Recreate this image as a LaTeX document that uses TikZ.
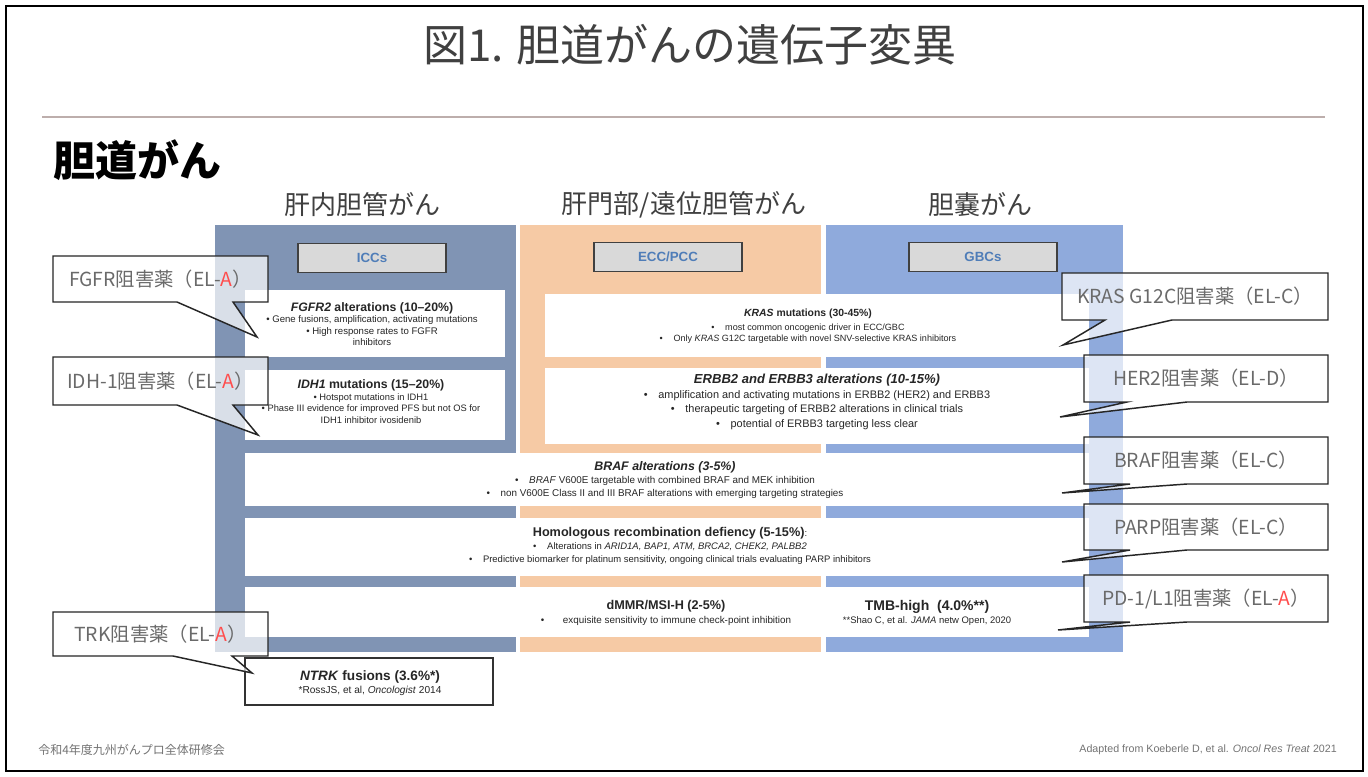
\documentclass[tikz,border=0pt]{standalone}
\usepackage{fontspec}
\setmainfont{Liberation Sans}
\newfontfamily\jp{Noto Sans CJK JP}
\definecolor{icc}{HTML}{8094B4}
\definecolor{ecc}{HTML}{F6CAA5}
\definecolor{gbc}{HTML}{8FAADC}
\definecolor{hdrtxt}{HTML}{4F7DB8}
\definecolor{calltxt}{HTML}{6A6A6A}
\definecolor{redA}{HTML}{FF4D4D}
\definecolor{rulecol}{HTML}{BDAEAC}
\definecolor{txt}{HTML}{262626}
\newcommand\hdf[1]{\fontsize{#1}{10}\selectfont\bfseries}
\newcommand\callbox[9]{%
  \path[callshape] (#2,#3) -- (#4,#3) -- (#4,#5) -- (#7,#5) -- (#8) -- (#6,#5) -- (#2,#5) -- cycle;
  \node[calltext] (#1) at ({(#2+#4)/2},{(#3+#5)/2}) {#9};
}
\begin{document}
\begin{tikzpicture}[x=0.75pt,y=-0.75pt,
  hdr/.style={draw=black!75, line width=1pt, fill=black!15, text=hdrtxt,
    font=\bfseries\fontsize{10}{12}\selectfont, minimum width=111pt, minimum height=22pt, inner sep=0pt},
  wbox/.style={fill=white, draw=none, inner sep=0pt},
  boxtxt/.style={align=center, text=txt, inner sep=0pt},
  callshape/.style={draw=black!85, line width=1.1pt, fill=white, fill opacity=0.7, line join=miter},
  calltext/.style={font=\jp\fontsize{14.5}{16}\selectfont, text=calltxt, inner sep=0pt},
  colhead/.style={font=\jp\fontsize{19.5}{22}\selectfont, text=black!75},
  foot/.style={text=black!55, inner sep=0pt}
]
\useasboundingbox (0,0) rectangle (1368,776);
\fill[white] (0,0) rectangle (1368,776);
\draw[line width=1.7pt] (6,6) rectangle (1363,771);

% title
\node[font=\jp\fontsize{33}{36}\selectfont, text=black!75] (title) at (690,45) {図1. 胆道がんの遺伝子変異};
\coordinate (r1) at (42,117);
\coordinate (r2) at (1325,117);
\draw[rulecol, line width=0.8pt] (r1) -- (r2);
\node[font=\jp\bfseries\fontsize{31.5}{34}\selectfont, anchor=west, inner sep=0pt] (sub) at (53,160) {胆道がん};

% column headings
\node[colhead] (h1) at (362,205) {肝内胆管がん};
\node[colhead] (h2) at (684,205) {肝門部/遠位胆管がん};
\node[colhead] (h3) at (980,205) {胆嚢がん};

% columns
\fill[icc] (215,225) rectangle (516,652);
\fill[ecc] (520,225) rectangle (821,652);
\fill[gbc] (826,225) rectangle (1123,652);

% header boxes
\node[hdr] (iccs) at (372,258) {ICCs};
\node[hdr] (eccs) at (668,257) {ECC/PCC};
\node[hdr] (gbcs) at (983,257) {GBCs};

% white boxes
\node[wbox, minimum width=195pt, minimum height=50pt] (fgfr) at (375,323.5) {};
\node[wbox, minimum width=195pt, minimum height=53pt] (idh) at (375,405) {};
\node[wbox, minimum width=408pt, minimum height=47.25pt] (kras) at (817,325.5) {};
\node[wbox, minimum width=408pt, minimum height=57pt] (erbb) at (817,406) {};
\node[wbox, minimum width=633pt, minimum height=39.75pt] (braf) at (666.5,479.5) {};
\node[wbox, minimum width=633pt, minimum height=43.5pt] (hr) at (666.5,547) {};
\node[wbox, minimum width=633pt, minimum height=37.5pt] (dmmr) at (666.5,612) {};
\node[wbox, draw=black!80, line width=1.2pt, minimum width=186pt, minimum height=35.25pt] (ntrk) at (369,681.5) {};

% texts
\node[boxtxt, font=\fontsize{7.2}{8.6}\selectfont] (fgfr-t) at (372,324) {{\hdf{9.2}\textit{FGFR2} alterations (10–20\%)}\\
  • Gene fusions, amplification, activating mutations\\
  • High response rates to FGFR\\
  inhibitors};
\node[boxtxt, font=\fontsize{7}{8.6}\selectfont] (idh-t) at (371,401.5) {{\hdf{9.2}\textit{IDH1} mutations (15–20\%)}\\
  • Hotspot mutations in IDH1\\
  • Phase III evidence for improved PFS but not OS for\\
  IDH1 inhibitor ivosidenib};
\node[boxtxt, font=\fontsize{6.8}{8.6}\selectfont] (kras-t) at (808,326) {{\hdf{7.8}\textit{KRAS} mutations (30-45\%)}\\[2pt]
  •\hspace{8pt}most common oncogenic driver in ECC/GBC\\
  •\hspace{8pt}Only \textit{KRAS} G12C targetable with novel SNV-selective KRAS inhibitors};
\node[boxtxt, font=\fontsize{8.2}{11}\selectfont] (erbb-t) at (817,402) {{\hdf{9.8}\itshape ERBB2 and ERBB3 alterations (10-15\%)}\\
  •\hspace{8pt}amplification and activating mutations in ERBB2 (HER2) and ERBB3\\
  •\hspace{8pt}therapeutic targeting of ERBB2 alterations in clinical trials\\
  •\hspace{8pt}potential of ERBB3 targeting less clear};
\node[boxtxt, font=\fontsize{7.4}{10}\selectfont] (braf-t) at (665,480) {{\hdf{9.3}\itshape BRAF alterations (3-5\%)}\\
  •\hspace{8pt}\textit{BRAF} V600E targetable with combined BRAF and MEK inhibition\\
  •\hspace{8pt}non V600E Class II and III BRAF alterations with emerging targeting strategies};
\node[boxtxt, font=\fontsize{7.1}{9.8}\selectfont] (hr-t) at (670,546) {{\hdf{9.5}Homologous recombination defiency (5-15\%)}:\\
  •\hspace{8pt}Alterations in \textit{ARID1A, BAP1, ATM, BRCA2, CHEK2, PALBB2}\\
  •\hspace{8pt}Predictive biomarker for platinum sensitivity, ongoing clinical trials evaluating PARP inhibitors};
\node[boxtxt, font=\fontsize{7.4}{10}\selectfont] (dmmr-t) at (666,613) {{\hdf{9.5}dMMR/MSI-H (2-5\%)}\\
  •\hspace{14pt}exquisite sensitivity to immune check-point inhibition};
\node[boxtxt, font=\fontsize{7.1}{10}\selectfont] (tmb-t) at (927,613) {{\hdf{10.5}TMB-high\ \ (4.0\%**)}\\
  **Shao C, et al. \textit{JAMA} netw Open, 2020};
\node[boxtxt, font=\fontsize{7.6}{10}\selectfont] (ntrk-t) at (370,683) {{\hdf{10.2}\textit{NTRK} fusions (3.6\%*)}\\
  *RossJS, et al, \textit{Oncologist} 2014};

% callouts
\coordinate (tip-fgfr) at (257,337);
\coordinate (tip-idh) at (258,435);
\coordinate (tip-trk) at (252,673);
\coordinate (tip-kras) at (1063,345);
\coordinate (tip-her2) at (1060,417);
\coordinate (tip-braf) at (1062,493);
\coordinate (tip-parp) at (1062,562);
\coordinate (tip-pd1) at (1058,630);
\callbox{c-fgfr}{53}{256}{268}{302}{177}{233}{tip-fgfr}{FGFR阻害薬（EL-\textcolor{redA}{A}）}
\callbox{c-idh}{53}{357}{268}{405}{177}{233}{tip-idh}{IDH-1阻害薬（EL-\textcolor{redA}{A}）}
\callbox{c-trk}{53}{612}{268}{656}{173}{232}{tip-trk}{TRK阻害薬（EL-\textcolor{redA}{A}）}
\callbox{c-kras}{1062}{273}{1328}{320}{1105}{1172}{tip-kras}{KRAS G12C阻害薬（EL-C）}
\callbox{c-her2}{1084}{355}{1328}{402}{1127}{1187}{tip-her2}{HER2阻害薬（EL-D）}
\callbox{c-braf}{1084}{437}{1328}{484}{1130}{1187}{tip-braf}{BRAF阻害薬（EL-C）}
\callbox{c-parp}{1084}{504}{1328}{550}{1130}{1187}{tip-parp}{PARP阻害薬（EL-C）}
\callbox{c-pd1}{1084}{575}{1328}{622}{1130}{1187}{tip-pd1}{PD-1/L1阻害薬（EL-\textcolor{redA}{A}）}

% footers
\node[foot, font=\jp\fontsize{9}{10}\selectfont, anchor=west] (fl) at (38,750) {令和4年度九州がんプロ全体研修会};
\node[foot, font=\fontsize{8}{9}\selectfont, anchor=east] (fr) at (1337,750) {Adapted from Koeberle D, et al. \textit{Oncol Res Treat} 2021};
\end{tikzpicture}
\end{document}
